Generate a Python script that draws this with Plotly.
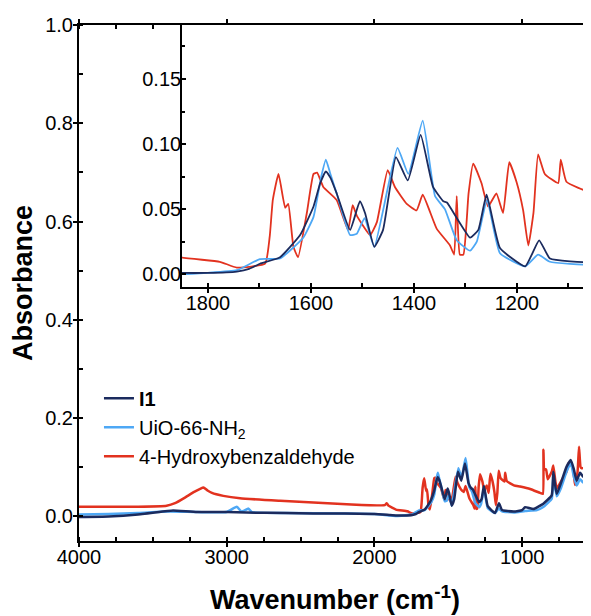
import plotly.graph_objects as go

# ---------------- data ----------------
wn_i1 = [4000, 3800, 3600, 3400, 3363, 3200, 3000, 2865, 2600, 2415, 2200, 2000, 1900, 1850,
         1800, 1744, 1720, 1699, 1660, 1621, 1595, 1582, 1571, 1562, 1550, 1524, 1505, 1495, 1477, 1460, 1435, 1412,
         1387, 1363, 1343, 1336, 1291, 1275, 1259, 1233, 1184, 1157, 1136, 1056, 1000, 980,
         924, 857, 800, 789, 780, 766, 740, 700, 671, 650, 631, 608, 586, 560, 545, 539, 537, 534]
abs_i1 = [-0.002, -0.001, 0.003, 0.010, 0.011, 0.008, 0.008, 0.007, 0.006, 0.005, 0.005, 0.004, 0.002, 0.001,
          0.001, 0.002, 0.004, 0.008, 0.013, 0.030, 0.052, 0.070, 0.079, 0.074, 0.062, 0.034, 0.056, 0.047, 0.021, 0.034, 0.090, 0.072,
          0.107, 0.067, 0.056, 0.055, 0.028, 0.034, 0.061, 0.020, 0.006, 0.026, 0.012, 0.009, 0.012, 0.018,
          0.014, 0.025, 0.042, 0.090, 0.070, 0.045, 0.065, 0.100, 0.114, 0.095, 0.072, 0.088, 0.080, 0.090, 0.090, 0.160, 0.090, 0.090]

wn_uio = [4000, 3800, 3600, 3400, 3200, 3000, 2932, 2900, 2853, 2830, 2600, 2200, 2000, 1850,
          1800, 1744, 1699, 1660, 1615, 1595, 1580, 1571, 1563, 1550, 1524, 1511, 1496, 1477, 1432, 1411, 1383,
          1359, 1340, 1317, 1291, 1278, 1258, 1233, 1184, 1159, 1136, 1056, 980, 900, 850,
          800, 789, 766, 740, 700, 671, 650, 631, 608, 586, 560, 545, 539, 537, 534]
abs_uio = [0.003, 0.004, 0.006, 0.009, 0.008, 0.008, 0.019, 0.009, 0.015, 0.008, 0.006, 0.005, 0.004, 0.000,
           0.001, 0.003, 0.0115, 0.012, 0.028, 0.044, 0.075, 0.088, 0.078, 0.062, 0.030, 0.031, 0.043, 0.021, 0.097, 0.077, 0.118,
           0.060, 0.050, 0.026, 0.018, 0.025, 0.057, 0.016, 0.006, 0.015, 0.0095, 0.007, 0.010, 0.012, 0.020,
           0.035, 0.080, 0.040, 0.055, 0.090, 0.108, 0.080, 0.062, 0.075, 0.068, 0.075, 0.080, -0.060, 0.070, 0.070]

wn_hba = [4000, 3600, 3407, 3350, 3280, 3220, 3180, 3158, 3130, 3100, 3023, 2910, 2639, 2188, 1930, 1917, 1905, 1854, 1777,
          1744, 1689, 1680, 1674, 1663, 1650, 1644, 1634, 1625, 1608, 1595, 1588, 1576, 1550,
          1528, 1519, 1511, 1485, 1472, 1451, 1437, 1414, 1395, 1383, 1356, 1330, 1322, 1317,
          1311, 1304, 1294, 1285, 1269, 1256, 1240, 1227, 1215, 1201, 1188, 1178, 1168, 1159,
          1146, 1120, 1115, 1104, 1056, 1014, 946, 879, 860, 856, 850, 838, 827, 800, 789,
          775, 766, 732, 700, 687, 658, 642, 625, 615, 605, 597, 563, 540, 534]
abs_hba = [0.019, 0.019, 0.021, 0.026, 0.038, 0.049, 0.055, 0.058, 0.052, 0.047, 0.041, 0.036, 0.031, 0.024, 0.022, 0.026, 0.021, 0.013, 0.0095,
           0.005, 0.008, 0.029, 0.057, 0.077, 0.051, 0.054, 0.021, 0.013, 0.047, 0.077, 0.078, 0.067, 0.057,
           0.034, 0.053, 0.045, 0.030, 0.040, 0.080, 0.067, 0.054, 0.049, 0.061, 0.035, 0.022, 0.015, 0.060,
           0.015, 0.015, 0.062, 0.085, 0.070, 0.052, 0.062, 0.047, 0.086, 0.071, 0.049, 0.022, 0.047, 0.092,
           0.077, 0.070, 0.088, 0.071, 0.0625, 0.060, 0.055, 0.047, 0.045, 0.135, 0.095, 0.095, 0.075, 0.090, 0.103,
           0.070, 0.056, 0.073, 0.090, 0.107, 0.100, 0.063, 0.090, 0.141, 0.100, 0.097, 0.100, 0.097, 0.097]

series_names = ["<b>I1</b>", "UiO-66-NH<sub>2</sub>", "4-Hydroxybenzaldehyde"]
colors = {"i1": "#1B2B5E", "uio": "#4EA8F5", "hba": "#E2321F"}

# ---------------- figure ----------------
fig = go.Figure()
FONT = "Arial, Liberation Sans, sans-serif"

# draw order: red, light blue, navy (navy on top)
traces = [
    (wn_hba, abs_hba, colors["hba"], series_names[2], 3),
    (wn_uio, abs_uio, colors["uio"], series_names[1], 2),
    (wn_i1, abs_i1, colors["i1"], series_names[0], 1),
]
for x, y, c, name, rank in traces:
    fig.add_trace(go.Scatter(x=x, y=y, mode="lines", name=name, legendrank=rank,
                             line=dict(color=c, width=2.5, shape="spline", smoothing=0.4),
                             xaxis="x", yaxis="y"))
for x, y, c, name, rank in traces:
    fig.add_trace(go.Scatter(x=x, y=y, mode="lines", name=name, showlegend=False,
                             line=dict(color=c, width=1.8, shape="spline", smoothing=0.4),
                             xaxis="x2", yaxis="y2"))

tickfont = dict(family=FONT, size=20, color="black")
# the page body adds an 8px offset; the figure is sized so the plot area lands where the reference has it
fig.update_layout(
    width=583, height=608,
    margin=dict(l=71, r=0, t=17, b=75, autoexpand=False),
    plot_bgcolor="white", paper_bgcolor="white",
    font=dict(family=FONT, color="black"),
    showlegend=True,
    legend=dict(x=0.039, y=0.3145, xanchor="left", yanchor="top",
                bgcolor="rgba(0,0,0,0)", font=dict(family=FONT, size=20, color="black"),
                tracegroupgap=0, itemwidth=30),
    xaxis=dict(range=[4000, 534], domain=[0, 1], dtick=1000, tick0=0, automargin=False,
               showline=True, linecolor="black", linewidth=2, mirror="ticks",
               ticks="outside", ticklen=4, tickwidth=2, tickcolor="black", ticklabelstandoff=-7,
               minor=dict(dtick=250, ticks="inside", ticklen=4, tickwidth=2, tickcolor="black"),
               showgrid=False, zeroline=False, tickfont=tickfont,
               title=dict(text="<b>Wavenumber (cm<sup>-1</sup>)</b>", standoff=23,
                          font=dict(family=FONT, size=27, color="black"))),
    yaxis=dict(range=[-0.051, 1.0005], domain=[0, 1], dtick=0.2, tick0=0, tickformat=".1f",
               automargin=False,
               showline=True, linecolor="black", linewidth=2,
               ticks="outside", ticklen=4, tickwidth=2, tickcolor="black", ticklabelstandoff=-4,
               minor=dict(dtick=0.1, ticks="inside", ticklen=4, tickwidth=2, tickcolor="black"),
               showgrid=False, zeroline=False, tickfont=tickfont,
               title=dict(text="<b>Absorbance</b>", standoff=10,
                          font=dict(family=FONT, size=27, color="black"))),
    xaxis2=dict(range=[1850.5, 1056.3], domain=[0.201, 1], anchor="y2", dtick=200, tick0=0,
                automargin=False,
                showline=True, linecolor="black", linewidth=1.5,
                ticks="outside", ticklen=4, tickwidth=1.5, tickcolor="black", ticklabelstandoff=-7,
                minor=dict(dtick=100, ticks="inside", ticklen=4, tickwidth=1.5, tickcolor="black"),
                showgrid=False, zeroline=False, tickfont=tickfont),
    yaxis2=dict(range=[-0.0100, 0.1915], domain=[0.492, 1], anchor="x2", dtick=0.05, tick0=0,
                tickformat=".2f", automargin=False,
                showline=True, linecolor="black", linewidth=1.5,
                ticks="inside", ticklen=4, tickwidth=1.5, tickcolor="black", ticklabelstandoff=-5,
                minor=dict(dtick=0.025, ticks="inside", ticklen=3, tickwidth=1.5, tickcolor="black"),
                showgrid=False, zeroline=False, tickfont=tickfont),
)

fig.write_html("out.html")
